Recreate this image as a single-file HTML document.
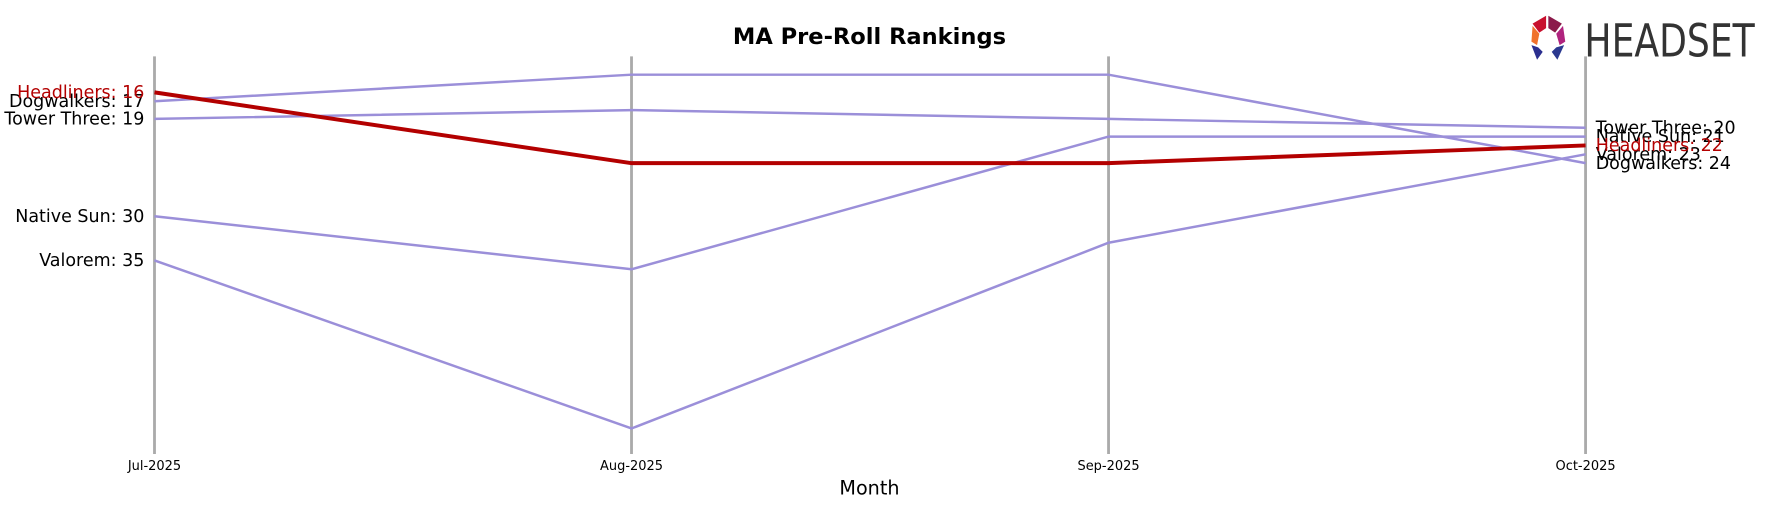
<!DOCTYPE html>
<html><head><meta charset="utf-8"><style>
body{margin:0;background:#fff;width:1766px;height:507px;overflow:hidden;font-family:"Liberation Sans","DejaVu Sans",sans-serif}
svg{display:block}
</style></head><body>
<svg width="1766" height="507" viewBox="0 0 1566 450" preserveAspectRatio="none" xmlns="http://www.w3.org/2000/svg">
<text x="771" y="39" text-anchor="middle" font-size="20" font-weight="bold" font-family="DejaVu Sans, sans-serif">MA Pre-Roll Rankings</text>
<g id="axes"></g>
<g id="lines"></g>
<text x="771" y="439" text-anchor="middle" font-size="17" font-family="DejaVu Sans, sans-serif">Month</text>
<g>
<polygon points="1359,21 1371,14 1371,25 1365,29" fill="#c8102e"/>
<polygon points="1373,14 1385,21 1379,29 1373,25" fill="#8b1a4a"/>
<polygon points="1359,23 1365,30 1363,40 1358,37" fill="#f0712c"/>
<polygon points="1386,23 1388,37 1383,40 1380,30" fill="#b0237e"/>
<polygon points="1358,40 1364,42 1368,46 1363,53" fill="#2b2f8f"/>
<polygon points="1387,40 1380,42 1376,46 1381,53" fill="#2b3990"/>
<text x="1405" y="50" font-size="40" fill="#333" font-family="DejaVu Sans, sans-serif" textLength="151" lengthAdjust="spacingAndGlyphs">HEADSET</text>
</g>
</svg>
<script>
const months=["Jul-2025","Aug-2025","Sep-2025","Oct-2025"];
const brands=["Dogwalkers","Tower Three","Native Sun","Valorem","Headliners"];
const dogwalkers=[17,14,14,24];
const towerThree=[19,18,19,20];
const nativeSun=[30,36,21,21];
const valorem=[35,54,33,23];
const headliners=[16,24,24,22];
const series=[dogwalkers,towerThree,nativeSun,valorem,headliners];
const NS="http://www.w3.org/2000/svg";
const xs=i=>137+i*(1406-137)/(months.length-1);
const ys=r=>82+(r-16)*7.85;
const ax=document.getElementById('axes'),ln=document.getElementById('lines');
function mk(tag,at,parent){const e=document.createElementNS(NS,tag);for(const k in at)e.setAttribute(k,at[k]);parent.appendChild(e);return e;}
months.forEach((m,i)=>{
 const l=mk('line',{x1:xs(i),x2:xs(i),y1:50,y2:403,stroke:'#aaa','stroke-width':2.5},ax);
 
 
 const t=mk('text',{x:xs(i),y:417,'text-anchor':'middle','font-size':11.5,'font-family':'DejaVu Sans, sans-serif'},ax);
 t.textContent=m;
 
 
});
series.forEach((s,k)=>{
 const hl=brands[k]==="Headliners";
 const col=hl?'#b30000':'#9b8fd9';
 const p=mk('polyline',{points:s.map((v,i)=>xs(i)+','+ys(v)).join(' '),fill:'none',stroke:col,'stroke-width':hl?3.5:2.2},ln);
 
 
 const a=mk('text',{x:128,y:ys(s[0])+5,'text-anchor':'end','font-size':15.5,fill:hl?'#b30000':'#000','font-family':'DejaVu Sans, sans-serif'},ln);
 a.textContent=brands[k]+': '+s[0];
 
 
 const last=s[s.length-1];
 const b=mk('text',{x:1415,y:ys(last)+5,'font-size':15.5,fill:hl?'#b30000':'#000','font-family':'DejaVu Sans, sans-serif'},ln);
 b.textContent=brands[k]+': '+last;
 
 
});
</script>
</body></html>
